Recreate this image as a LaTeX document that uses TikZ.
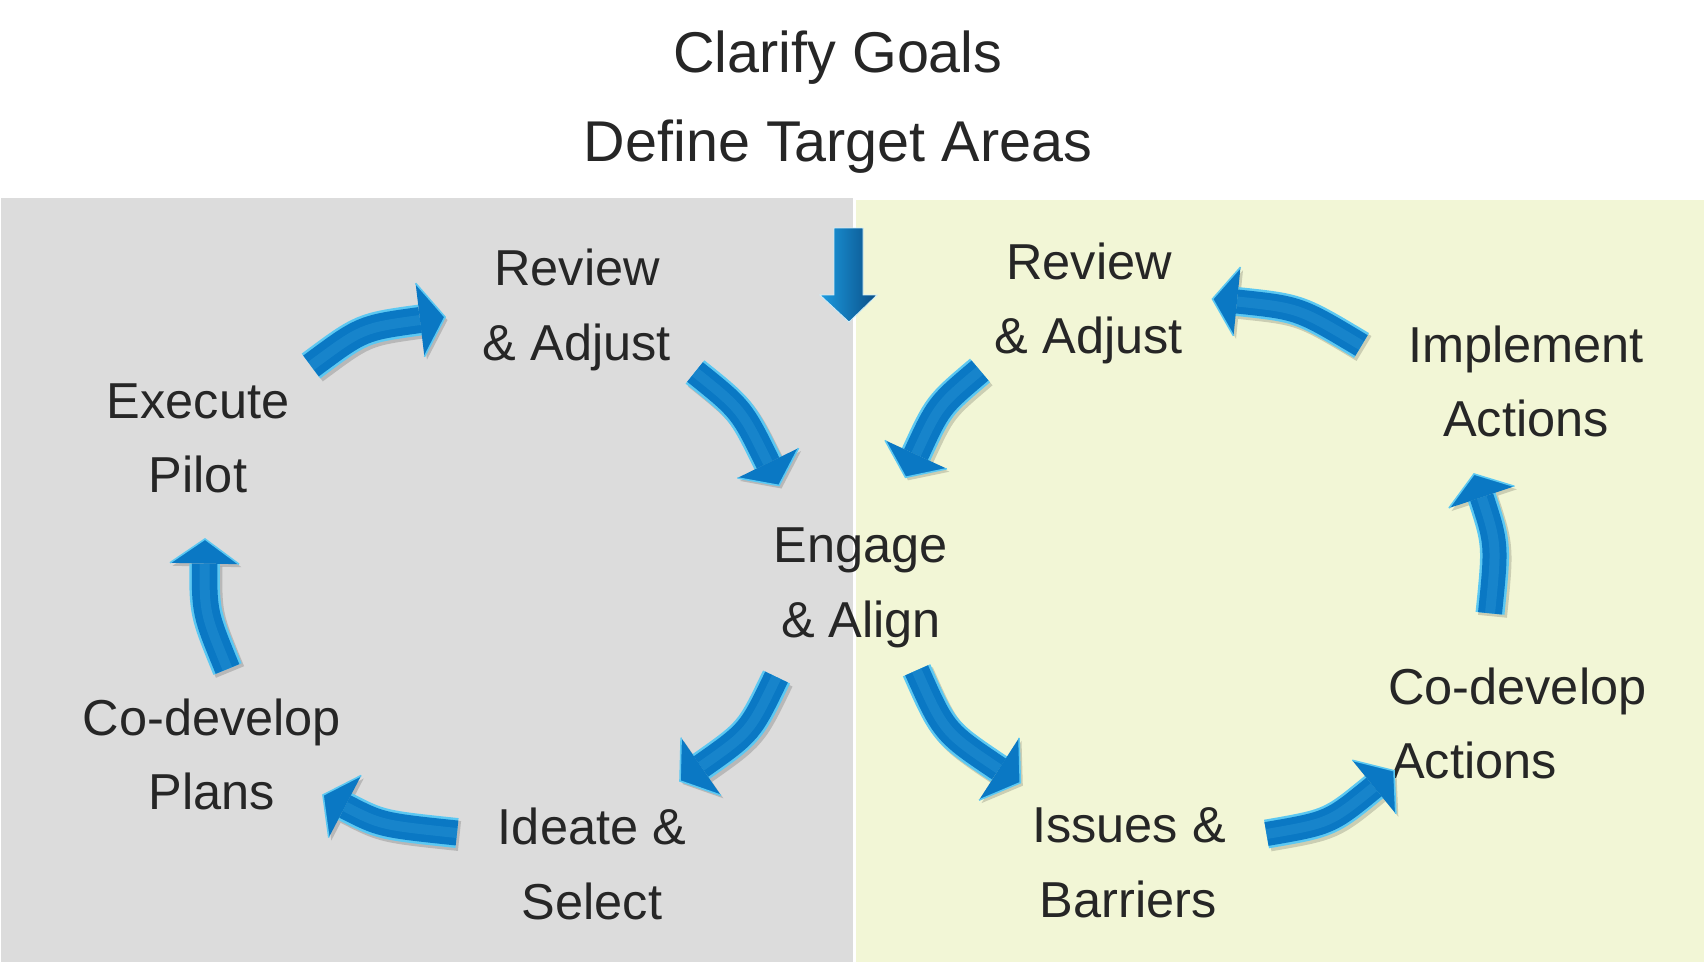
\documentclass[tikz,border=0pt]{standalone}
\usepackage{fontspec}
\setmainfont{Liberation Sans}
\usetikzlibrary{calc}
\definecolor{grayback}{HTML}{DCDCDC}
\definecolor{yellowback}{HTML}{F2F6D6}
\definecolor{txtcol}{HTML}{262626}
\definecolor{ablue}{HTML}{0A78C4}
\definecolor{alight}{HTML}{5CC8F2}
\definecolor{dleft}{HTML}{1C9BE0}
\definecolor{dright}{HTML}{0A4E86}
% #1 tail, #2 control, #3 head base, #4 tip, #5 full shaft width, #6 inner width, #7 head half width
\newcommand{\blockarrow}[7]{%
  \begin{scope}[transform canvas={xshift=2.5pt,yshift=-3pt}]
    \draw[line width=#5, black, opacity=0.16] (#1) .. controls (#2) .. (#3);
    \fill[black, opacity=0.16] ($(#3)!#7!90:(#4)$) -- (#4) -- ($(#3)!#7!-90:(#4)$) -- cycle;
  \end{scope}
  \draw[line width=2.5pt, alight, double=ablue, double distance=#6] (#1) .. controls (#2) .. (#3);
  \draw[line width=10pt, alight, opacity=0.16] (#1) .. controls (#2) .. (#3);
  \fill[ablue] ($(#3)!#7!90:(#4)$) -- (#4) -- ($(#3)!#7!-90:(#4)$) -- cycle;
  \draw[alight, line width=1.6pt, line join=miter] ($(#3)!#7!90:(#4)$) -- (#4) -- ($(#3)!#7!-90:(#4)$);
}
\begin{document}
\begin{tikzpicture}[x=1pt,y=-1pt,
  lbl/.style={text=txtcol, font=\fontsize{50.5}{60}\selectfont, inner sep=0pt, anchor=base},
  lblw/.style={lbl, anchor=base west},
  ttl/.style={text=txtcol, font=\fontsize{57.5}{69}\selectfont, inner sep=0pt, anchor=base}]
\useasboundingbox (0,0) rectangle (1704,962);
\fill[white] (0,0) rectangle (1704,962);
% panels
\fill[grayback] (1,198) rectangle (853,962);
\fill[yellowback] (856,200) rectangle (1704,962);

% titles
\node[ttl] (title1) at (838,72) {Clarify Goals};
\node[ttl] (title2) at (838,161) {Define Target Areas};

% labels
\node[lbl] (revL1) at (577,285) {Review};
\node[lbl] (revL2) at (577,360) {\& Adjust};
\node[lbl] (revR1) at (1089,279) {Review};
\node[lbl] (revR2) at (1089,353) {\& Adjust};
\node[lbl] (exe1) at (198,418) {Execute};
\node[lbl] (exe2) at (198,492) {Pilot};
\node[lbl] (cdp1) at (212,735) {Co-develop};
\node[lbl] (cdp2) at (212,809) {Plans};
\node[lbl] (ide1) at (592,844) {Ideate \&};
\node[lbl] (ide2) at (592,919) {Select};
\node[lbl] (eng1) at (861,562) {Engage};
\node[lbl] (eng2) at (861,637) {\& Align};
\node[lbl] (iss1) at (1129,842) {Issues \&};
\node[lbl] (iss2) at (1128,917) {Barriers};
\node[lbl] (imp1) at (1526,362) {Implement};
\node[lbl] (imp2) at (1526,436) {Actions};
\node[lblw] (cda1) at (1388,704) {Co-develop};
\node[lblw] (cda2) at (1391,778) {Actions};

% down arrow
\coordinate (dtop) at (848.5,228);
\coordinate (dtip) at (849,322);
\shadedraw[left color=dleft, right color=dright, draw=white!70!alight, line width=0.8pt, line join=miter]
  (834,228) -- (863,228) -- (863,295) -- (877,295) -- (dtip) -- (820,295) -- (834,295) -- cycle;

% curved arrows: coordinates
\coordinate (a1t) at (311,366);   \coordinate (a1c) at (362,328);  \coordinate (a1h) at (420,320);   \coordinate (a1p) at (445,317);
\coordinate (a2t) at (695,372);   \coordinate (a2c) at (741.6,409.4);  \coordinate (a2h) at (768,463);   \coordinate (a2p) at (779,485.5);
\coordinate (a3t) at (776.5,677); \coordinate (a3c) at (750,732);  \coordinate (a3h) at (701,766.5); \coordinate (a3p) at (680,781);
\coordinate (a4t) at (457,833);   \coordinate (a4c) at (381,825);  \coordinate (a4h) at (345,806.5); \coordinate (a4p) at (323,795);
\coordinate (a5t) at (227.5,669); \coordinate (a5c) at (204.5,613);\coordinate (a5h) at (204.5,563.5);\coordinate (a5p) at (205,539);
\coordinate (a6t) at (916.6,670.3);\coordinate (a6c) at (944,732); \coordinate (a6h) at (999,769);   \coordinate (a6p) at (1020.3,782.7);
\coordinate (a7t) at (1266.5,834);\coordinate (a7c) at (1330,823); \coordinate (a7h) at (1374,787);  \coordinate (a7p) at (1394,770.7);
\coordinate (a8t) at (1490,613.3);\coordinate (a8c) at (1497,544); \coordinate (a8h) at (1481.7,497.2);\coordinate (a8p) at (1474,474);
\coordinate (a9t) at (1361.5,345.5);\coordinate (a9c) at (1299,308);\coordinate (a9h) at (1237,301.5);\coordinate (a9p) at (1212.5,299);
\coordinate (a10t) at (980,370.5);\coordinate (a10c) at (938.6,405.5); \coordinate (a10h) at (916,454.5); \coordinate (a10p) at (905.5,477.3);

\blockarrow{a1t}{a1c}{a1h}{a1p}{31pt}{26pt}{37pt}
\blockarrow{a2t}{a2c}{a2h}{a2p}{30pt}{25pt}{34pt}
\blockarrow{a3t}{a3c}{a3h}{a3p}{30pt}{25pt}{35pt}
\blockarrow{a4t}{a4c}{a4h}{a4p}{30pt}{25pt}{35pt}
\blockarrow{a5t}{a5c}{a5h}{a5p}{30.5pt}{25.5pt}{34.5pt}
\blockarrow{a6t}{a6c}{a6h}{a6p}{30pt}{25pt}{37pt}
\blockarrow{a7t}{a7c}{a7h}{a7p}{29pt}{24pt}{34.5pt}
\blockarrow{a8t}{a8c}{a8h}{a8p}{29pt}{24pt}{34.5pt}
\blockarrow{a9t}{a9c}{a9h}{a9p}{29pt}{24pt}{34.5pt}
\blockarrow{a10t}{a10c}{a10h}{a10p}{31pt}{26pt}{34pt}
\end{tikzpicture}
\end{document}
